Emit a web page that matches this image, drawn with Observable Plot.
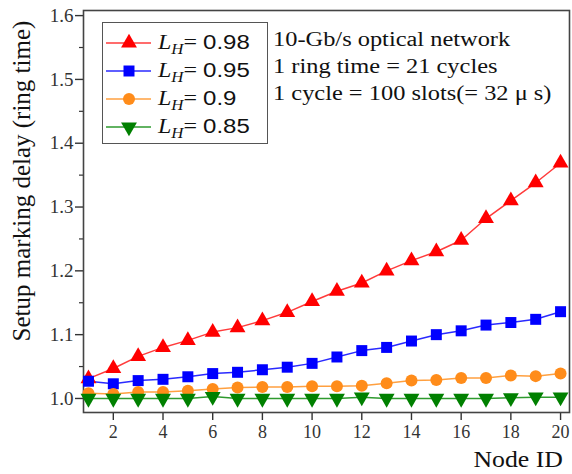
<!DOCTYPE html>
<html>
<head>
<meta charset="utf-8">
<script src="https://cdn.jsdelivr.net/npm/d3@7"></script>
<script src="https://cdn.jsdelivr.net/npm/@observablehq/plot@0.6"></script>
<style>
  html, body { margin: 0; padding: 0; background: #fff; }
  #wrap { position: relative; width: 572px; height: 474px; font-family: "Liberation Serif", "Times New Roman", serif; color: #111; }
  #legend { position: absolute; left: 102px; top: 22px; width: 166px; height: 122px; border: 1.5px solid #555; background: #fff; box-sizing: border-box; }
  .entry { position: absolute; left: 0; height: 26px; width: 162px; }
  .entry svg { position: absolute; left: 2px; top: 0; }
  .entry span { position: absolute; left: 55px; top: -1px; font-size: 20px; line-height: 26px; white-space: nowrap; transform: scaleX(1.2); transform-origin: left center; }
  .entry i sub { font-size: 14px; }
  .entry .num { font-family: "Liberation Sans", Arial, sans-serif; }
  #note { position: absolute; left: 273px; top: 26px; font-size: 20px; line-height: 27px; white-space: nowrap; transform: scaleX(1.22); transform-origin: left top; }
  #ylabel { position: absolute; left: 22px; top: 181px; font-size: 25px; white-space: nowrap; transform: translate(-50%, -50%) rotate(-90deg); }
  #xlabel { position: absolute; right: 9px; top: 448px; font-size: 23px; line-height: 24px; white-space: nowrap; transform: scaleX(1.12); transform-origin: right top; }
</style>
</head>
<body>
<div id="wrap"></div>
<script>
const nodes = [1,2,3,4,5,6,7,8,9,10,11,12,13,14,15,16,17,18,19,20];
const seriesNames = ["0.98","0.95","0.9","0.85"];
const seriesColors = ["#ff0000","#0000ff","#ff8c1a","#008000"];
const lineColors = ["#ff3b3b","#2a2aff","#ffa040","#2e9a2e"];
const lh098 = [1.031,1.047,1.066,1.080,1.091,1.104,1.111,1.122,1.135,1.152,1.168,1.181,1.200,1.216,1.230,1.248,1.282,1.310,1.338,1.369];
const lh095 = [1.027,1.023,1.028,1.030,1.034,1.039,1.041,1.045,1.049,1.055,1.065,1.075,1.080,1.090,1.100,1.106,1.115,1.119,1.124,1.136];
const lh090 = [1.008,1.007,1.010,1.010,1.012,1.015,1.017,1.018,1.018,1.019,1.019,1.020,1.024,1.028,1.029,1.032,1.032,1.036,1.035,1.039];
const lh085 = [1.000,1.000,1.000,1.000,1.000,1.003,1.000,1.000,1.000,1.000,1.000,1.002,1.000,1.000,1.000,1.000,1.000,1.001,1.002,1.002];
const yTicks = [1.0,1.1,1.2,1.3,1.4,1.5,1.6];
const yMinor = [1.05,1.15,1.25,1.35,1.45,1.55];
const xTicks = [2,4,6,8,10,12,14,16,18,20];
const yTitle = "Setup marking delay (ring time)";
const xTitle = "Node ID";
const notes = ["10-Gb/s optical network","1 ring time = 21 cycles","1 cycle = 100 slots(= 32 \u03bc s)"];

const triDown = {
  draw(ctx, size) {
    const y = Math.sqrt(size / (3 * Math.sqrt(3)));
    ctx.moveTo(0, y * 2);
    ctx.lineTo(-Math.sqrt(3) * y, -y);
    ctx.lineTo(Math.sqrt(3) * y, -y);
    ctx.closePath();
  }
};
const symbols = [d3.symbolTriangle, d3.symbolSquare, d3.symbolCircle, triDown];
const radii = [5.9, 6.2, 6.0, 5.9];

const allSeries = [lh098, lh095, lh090, lh085];
const data = [];
allSeries.forEach((vals, s) => vals.forEach((v, i) => data.push({node: nodes[i], value: v, s})));

const marks = [];
allSeries.forEach((vals, s) => {
  const d = data.filter(r => r.s === s);
  marks.push(Plot.line(d, {x: "node", y: "value", stroke: lineColors[s], strokeWidth: 1.5}));
});
allSeries.forEach((vals, s) => {
  const d = data.filter(r => r.s === s);
  marks.push(Plot.dot(d, {x: "node", y: "value", fill: seriesColors[s], stroke: "none", symbol: symbols[s], r: radii[s]}));
});

const chart = Plot.plot({
  width: 572,
  height: 474,
  marginLeft: 83,
  marginRight: 3,
  marginTop: 10,
  marginBottom: 62,
  style: {fontFamily: "'Liberation Serif', serif", fontSize: "18px", color: "#333", background: "#fff"},
  x: {domain: [0.8, 20.36]},
  y: {domain: [0.978, 1.608]},
  marks: [
    Plot.axisY({ticks: yTicks, tickSize: 8, tickPadding: 2, tickFormat: d3.format(".1f"), stroke: "#333", strokeWidth: 1.4,
      label: null, fontSize: 19}),
    Plot.axisY({ticks: yMinor, tickSize: 4, tickFormat: () => "", stroke: "#333", strokeWidth: 1.2, label: null}),
    Plot.axisX({ticks: xTicks, tickSize: 8, tickPadding: 5, stroke: "#333", strokeWidth: 1.4,
      label: null, fontSize: 18}),
    Plot.frame({stroke: "#444", strokeWidth: 1.6}),
    ...marks
  ]
});
const wrap = document.getElementById("wrap");
wrap.appendChild(chart);

const yl = document.createElement("div");
yl.id = "ylabel"; yl.textContent = yTitle; wrap.appendChild(yl);
const xl = document.createElement("div");
xl.id = "xlabel"; xl.textContent = xTitle; wrap.appendChild(xl);

// legend
const legend = document.createElement("div");
legend.id = "legend";
seriesNames.forEach((name, s) => {
  const e = document.createElement("div");
  e.className = "entry";
  e.style.top = (7 + s * 28) + "px";
  const sym = d3.symbol(symbols[s], Math.PI * radii[s] * radii[s])();
  e.innerHTML = `<svg width="50" height="26"><line x1="1" x2="46" y1="13" y2="13" stroke="${lineColors[s]}" stroke-width="1.5"/><path d="${sym}" transform="translate(24,13)" fill="${seriesColors[s]}"/></svg><span><i>L<sub>H</sub></i>= <span class="num" style="position:static">${name}</span></span>`;
  legend.appendChild(e);
});
wrap.appendChild(legend);

const note = document.createElement("div");
note.id = "note";
note.innerHTML = notes.map(t => `<div>${t}</div>`).join("");
wrap.appendChild(note);
</script>
</body>
</html>
